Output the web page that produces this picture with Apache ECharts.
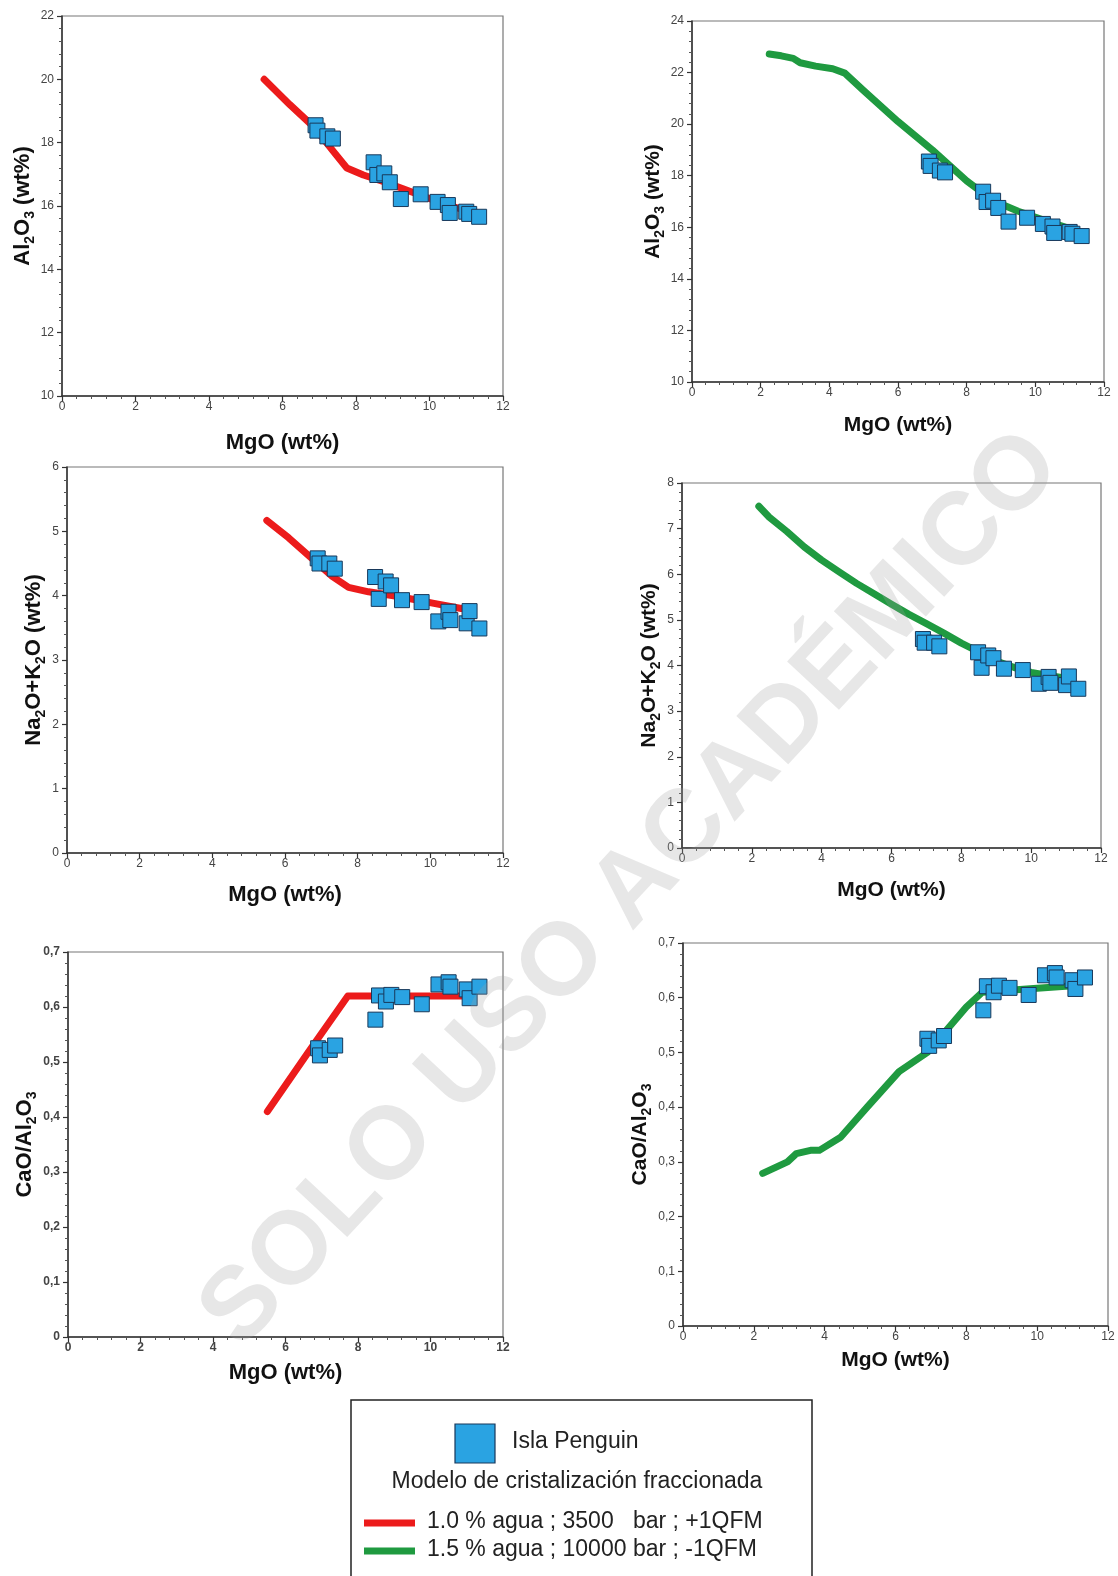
<!DOCTYPE html>
<html>
<head>
<meta charset="utf-8">
<script src="https://cdn.jsdelivr.net/npm/echarts@6/dist/echarts.min.js"></script>
<style>
  html, body { margin: 0; padding: 0; background: #fff; }
  #chart { width: 1118px; height: 1576px; }
</style>
</head>
<body>
<div id="chart"></div>
<script>
// ---------------- DATA ----------------
// Isla Penguin samples (same samples in every panel)
const mgo   = [6.90, 6.95, 7.22, 7.37, 8.48, 8.58, 8.77, 8.92, 9.22, 9.76, 10.22, 10.50, 10.55, 11.00, 11.08, 11.35];
const al2o3 = [18.55, 18.38, 18.20, 18.13, 17.38, 16.98, 17.03, 16.75, 16.22, 16.37, 16.13, 16.03, 15.78, 15.82, 15.75, 15.66];
const naK   = [4.58, 4.50, 4.50, 4.42, 4.29, 3.95, 4.22, 4.16, 3.93, 3.90, 3.60, 3.75, 3.62, 3.57, 3.76, 3.49];
const caoAl = [0.525, 0.512, 0.522, 0.530, 0.577, 0.621, 0.610, 0.622, 0.618, 0.605, 0.641, 0.645, 0.637, 0.632, 0.616, 0.637];

// Model 1: 1.0 % agua ; 3500 bar ; +1QFM  (red)   [MgO, value]
const redAl  = [[5.5, 20.0], [6.2, 19.2], [6.85, 18.5], [7.4, 17.7], [7.75, 17.2], [8.2, 16.98], [8.8, 16.75], [9.5, 16.45], [10.2, 16.15], [11.0, 15.85]];
const redNaK = [[5.5, 5.17], [6.1, 4.9], [6.8, 4.55], [7.3, 4.3], [7.75, 4.13], [8.3, 4.06], [9.2, 3.98], [10.1, 3.88], [10.85, 3.8]];
const redCa  = [[5.5, 0.41], [6.6, 0.515], [7.72, 0.62], [11.0, 0.62]];

// Model 2: 1.5 % agua ; 10000 bar ; -1QFM  (green)
const greenAl  = [[2.25, 22.72], [2.6, 22.65], [2.95, 22.55], [3.15, 22.38], [3.6, 22.25], [4.1, 22.15], [4.45, 21.98], [5.0, 21.3], [5.5, 20.7], [6.0, 20.1], [6.5, 19.55], [7.0, 19.0], [7.5, 18.4], [8.0, 17.8], [8.5, 17.3], [9.0, 16.9], [9.5, 16.62], [10.2, 16.3], [11.0, 15.95]];
const greenNaK = [[2.2, 7.49], [2.5, 7.25], [3.0, 6.94], [3.5, 6.6], [4.0, 6.31], [4.5, 6.05], [5.0, 5.8], [5.5, 5.57], [6.0, 5.34], [6.5, 5.12], [7.0, 4.92], [7.5, 4.71], [8.0, 4.49], [8.5, 4.3], [9.0, 4.1], [9.5, 3.96], [10.0, 3.85], [10.5, 3.78], [11.0, 3.72]];
const greenCa  = [[2.25, 0.279], [2.95, 0.300], [3.2, 0.315], [3.6, 0.321], [3.85, 0.321], [4.45, 0.345], [5.2, 0.40], [6.1, 0.465], [6.9, 0.50], [8.0, 0.583], [8.45, 0.61], [9.9, 0.617], [11.0, 0.622]];

// Axis ranges / ticks
const xRange = { min: 0, max: 12, interval: 2 };
const yAlRange = { min: 10, max: 22, interval: 2 };
const yAlRange2 = { min: 10, max: 24, interval: 2 };
const yNaRange = { min: 0, max: 6, interval: 1 };
const yNaRange2 = { min: 0, max: 8, interval: 1 };
const yCaRange = { min: 0, max: 0.7, interval: 0.1 };

// Text
const xTitle = 'MgO (wt%)';
const yTitleAl = '{b|Al}{s|2}{b|O}{s|3}{b| (wt%)}';
const yTitleNa = '{b|Na}{s|2}{b|O+K}{s|2}{b|O (wt%)}';
const yTitleCa = '{b|CaO/Al}{s|2}{b|O}{s|3}';
const legendSample = 'Isla Penguin';
const legendTitle = 'Modelo de cristalización fraccionada';
const legendRed = '1.0 % agua ; 3500   bar ; +1QFM';
const legendGreen = '1.5 % agua ; 10000 bar ; -1QFM';
const watermark = 'SOLO USO ACADÉMICO';

// ---------------- STYLE / LAYOUT ----------------
const FONT = '"Liberation Sans", Arial, Helvetica, sans-serif';
const RED = '#ec1b1b';
const GREEN = '#1f9a40';
const SQ_FILL = '#2aa3e2';
const SQ_BORDER = '#18385a';

const panels = [
  { grid: { left: 62,  top: 16,  width: 441, height: 380 }, y: yAlRange,  yName: yTitleAl, line: redAl,    color: RED,   vals: al2o3, xGap: 36, yGap: 24, nameSize: 22, bold: false },
  { grid: { left: 692, top: 21,  width: 412, height: 361 }, y: yAlRange2, yName: yTitleAl, line: greenAl,  color: GREEN, vals: al2o3, xGap: 32, yGap: 27, nameSize: 21, bold: false },
  { grid: { left: 67,  top: 467, width: 436, height: 386 }, y: yNaRange,  yName: yTitleNa, line: redNaK,   color: RED,   vals: naK,   xGap: 31, yGap: 21, nameSize: 22, bold: false },
  { grid: { left: 682, top: 483, width: 419, height: 365 }, y: yNaRange2, yName: yTitleNa, line: greenNaK, color: GREEN, vals: naK,   xGap: 31, yGap: 16, nameSize: 21, bold: false },
  { grid: { left: 68,  top: 952, width: 435, height: 385 }, y: yCaRange,  yName: yTitleCa, line: redCa,    color: RED,   vals: caoAl, xGap: 25, yGap: 21, nameSize: 22, bold: true,  comma: true },
  { grid: { left: 683, top: 943, width: 425, height: 383 }, y: yCaRange,  yName: yTitleCa, line: greenCa,  color: GREEN, vals: caoAl, xGap: 23, yGap: 22, nameSize: 21, bold: false, comma: true }
];

function fmtY(p) {
  return function (v) {
    if (Math.abs(v) < 1e-9) return '0';
    if (p.comma) return v.toFixed(1).replace('.', ',');
    return String(Math.round(v));
  };
}

const grids = [], xAxes = [], yAxes = [], series = [];
panels.forEach(function (p, i) {
  grids.push(Object.assign({ show: true, borderColor: '#777', borderWidth: 1.2, backgroundColor: 'transparent', containLabel: false, outerBoundsMode: 'none' }, p.grid));
  const common = {
    axisLine: { show: true, onZero: false, lineStyle: { color: '#333', width: 1.5 } },
    axisTick: { show: true, inside: false, length: 5, lineStyle: { color: '#333', width: 1.2 } },
    minorTick: { show: true, splitNumber: 5, length: 3, lineStyle: { color: '#555', width: 1 } },
    splitLine: { show: false },
    minorSplitLine: { show: false }
  };
  xAxes.push(Object.assign({
    type: 'value', gridIndex: i, min: xRange.min, max: xRange.max, interval: xRange.interval,
    name: xTitle, nameLocation: 'middle', nameGap: p.xGap,
    nameTextStyle: { fontFamily: FONT, fontSize: p.nameSize, fontWeight: 'bold', color: '#111', lineHeight: 22 },
    axisLabel: { fontFamily: FONT, fontSize: 12, color: '#444', margin: 5, fontWeight: p.bold ? 'bold' : 'normal' }
  }, common));
  yAxes.push(Object.assign({
    type: 'value', gridIndex: i, min: p.y.min, max: p.y.max, interval: p.y.interval,
    name: p.yName, nameLocation: 'middle', nameGap: p.yGap, nameRotate: 90,
    nameTextStyle: {
      fontFamily: FONT, color: '#111',
      rich: {
        b: { fontFamily: FONT, fontSize: p.nameSize, fontWeight: 'bold', color: '#111', lineHeight: 24, verticalAlign: 'middle' },
        s: { fontFamily: FONT, fontSize: 14, fontWeight: 'bold', color: '#111', lineHeight: 14, padding: [14, 0, 0, 0], verticalAlign: 'middle' }
      }
    },
    axisLabel: { fontFamily: FONT, fontSize: 12, color: '#444', margin: 8, fontWeight: p.bold ? 'bold' : 'normal', formatter: fmtY(p) }
  }, common));
  series.push({
    type: 'line', xAxisIndex: i, yAxisIndex: i, data: p.line, showSymbol: false, symbol: 'none',
    lineStyle: { color: p.color, width: 7, cap: 'round', join: 'round' }, z: 2, silent: true
  });
  series.push({
    type: 'scatter', xAxisIndex: i, yAxisIndex: i, symbol: 'rect', symbolSize: 15,
    data: mgo.map(function (m, k) { return [m, p.vals[k]]; }),
    itemStyle: { color: SQ_FILL, borderColor: SQ_BORDER, borderWidth: 1, opacity: 1 }, z: 3
  });
});

const graphic = [
  // legend box
  { type: 'rect', shape: { x: 351, y: 1400, width: 461, height: 200 }, style: { fill: '#fff', stroke: '#222', lineWidth: 1.5 }, z: 1 },
  { type: 'rect', shape: { x: 455, y: 1424, width: 40, height: 39 }, style: { fill: SQ_FILL, stroke: SQ_BORDER, lineWidth: 1.2 }, z: 2 },
  { type: 'text', x: 512, y: 1442, style: { text: legendSample, font: '23px ' + FONT, fill: '#222', textVerticalAlign: 'middle', textAlign: 'left' }, z: 2 },
  { type: 'text', x: 577, y: 1482, style: { text: legendTitle, font: '23px ' + FONT, fill: '#222', textVerticalAlign: 'middle', textAlign: 'center' }, z: 2 },
  { type: 'line', shape: { x1: 364, y1: 1523, x2: 415, y2: 1523 }, style: { stroke: RED, lineWidth: 7 }, z: 2 },
  { type: 'text', x: 427, y: 1522, style: { text: legendRed, font: '23px ' + FONT, fill: '#222', textVerticalAlign: 'middle', textAlign: 'left' }, z: 2 },
  { type: 'line', shape: { x1: 364, y1: 1551, x2: 415, y2: 1551 }, style: { stroke: GREEN, lineWidth: 7 }, z: 2 },
  { type: 'text', x: 427, y: 1550, style: { text: legendGreen, font: '23px ' + FONT, fill: '#222', textVerticalAlign: 'middle', textAlign: 'left' }, z: 2 },
  // watermark
  { type: 'text', x: 632, y: 890, rotation: 47 * Math.PI / 180, silent: true, z: 100,
    style: { text: watermark, font: 'bold 103px ' + FONT, fill: 'rgba(160,160,160,0.25)', textAlign: 'center', textVerticalAlign: 'middle' } }
];

const chart = echarts.init(document.getElementById('chart'), null, { renderer: 'canvas' });
chart.setOption({
  animation: false,
  backgroundColor: '#ffffff',
  grid: grids,
  xAxis: xAxes,
  yAxis: yAxes,
  series: series,
  graphic: graphic
});
</script>
</body>
</html>
